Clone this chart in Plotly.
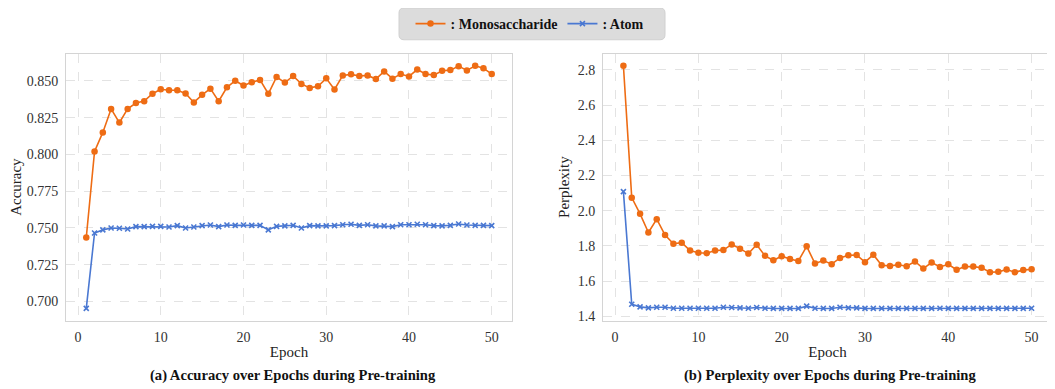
import plotly.graph_objects as go
from plotly.subplots import make_subplots

epochs = list(range(1, 51))

acc_mono = [0.7435, 0.802, 0.815, 0.831, 0.8217, 0.831, 0.835, 0.8363, 0.8413, 0.8444,
            0.8437, 0.8437, 0.8415, 0.8354, 0.8406, 0.8448, 0.8363, 0.8457, 0.8502, 0.8469,
            0.8491, 0.8507, 0.8413, 0.8527, 0.8489, 0.8534, 0.848, 0.8453, 0.8464, 0.8518,
            0.8442, 0.8538, 0.8545, 0.8534, 0.8538, 0.8513, 0.8565, 0.8516, 0.8547, 0.8531,
            0.8578, 0.8547, 0.854, 0.857, 0.8574, 0.8601, 0.8572, 0.8603, 0.8587, 0.8547]

acc_atom = [0.6953, 0.7466, 0.7487, 0.750, 0.7498, 0.7493, 0.7509, 0.7509, 0.7511, 0.7511,
            0.7507, 0.7516, 0.750, 0.7507, 0.7516, 0.752, 0.7509, 0.752, 0.7518, 0.752,
            0.7518, 0.7518, 0.7487, 0.7511, 0.7514, 0.7518, 0.750, 0.7516, 0.7514, 0.7514,
            0.7516, 0.7522, 0.7525, 0.7518, 0.7522, 0.7514, 0.7514, 0.7509, 0.7522, 0.7522,
            0.7525, 0.7522, 0.7516, 0.7514, 0.7518, 0.7527, 0.752, 0.7518, 0.7518, 0.7516]

ppl_mono = [2.824, 2.074, 1.982, 1.876, 1.9515, 1.861, 1.812, 1.818, 1.773, 1.761,
            1.758, 1.773, 1.776, 1.808, 1.784, 1.756, 1.806, 1.743, 1.718, 1.741,
            1.725, 1.714, 1.797, 1.699, 1.716, 1.696, 1.731, 1.746, 1.748, 1.707,
            1.750, 1.690, 1.686, 1.692, 1.684, 1.711, 1.671, 1.705, 1.680, 1.695,
            1.664, 1.682, 1.682, 1.675, 1.650, 1.652, 1.665, 1.650, 1.662, 1.667]

ppl_atom = [2.108, 1.468, 1.453, 1.447, 1.451, 1.451, 1.445, 1.445, 1.445, 1.445,
            1.445, 1.445, 1.451, 1.449, 1.447, 1.445, 1.449, 1.445, 1.444, 1.444,
            1.444, 1.444, 1.457, 1.445, 1.444, 1.444, 1.451, 1.447, 1.447, 1.444,
            1.444, 1.444, 1.444, 1.444, 1.444, 1.444, 1.444, 1.444, 1.445, 1.444,
            1.444, 1.444, 1.444, 1.444, 1.444, 1.444, 1.444, 1.444, 1.444, 1.445]

x_ticks = [0, 10, 20, 30, 40, 50]
acc_ticks = [0.700, 0.725, 0.750, 0.775, 0.800, 0.825, 0.850]
ppl_ticks = [1.4, 1.6, 1.8, 2.0, 2.2, 2.4, 2.6, 2.8]

ORANGE = "#EE6C14"
BLUE = "#4A78D2"
FONT = "Liberation Serif, Times New Roman, serif"

W, H = 1055, 389
OFF = 8  # page body margin offset


def px(x):
    return (x - OFF) / W


def py(y):
    return 1 - (y - OFF) / H


fig = make_subplots(rows=1, cols=2)

mono_style = dict(mode="lines+markers", line=dict(color=ORANGE, width=1.6),
                  marker=dict(symbol="circle", size=6.5, color=ORANGE))
atom_style = dict(mode="lines+markers", line=dict(color=BLUE, width=1.6),
                  marker=dict(symbol="x-thin", size=5, color=BLUE, line=dict(width=1.6, color=BLUE)))

fig.add_trace(go.Scatter(x=epochs, y=acc_mono, name="<b>: Monosaccharide</b>", legendgroup="m", **mono_style), 1, 1)
fig.add_trace(go.Scatter(x=epochs, y=acc_atom, name="<b>: Atom</b>", legendgroup="a", **atom_style), 1, 1)
fig.add_trace(go.Scatter(x=epochs, y=ppl_mono, name="<b>: Monosaccharide</b>", legendgroup="m", showlegend=False, **mono_style), 1, 2)
fig.add_trace(go.Scatter(x=epochs, y=ppl_atom, name="<b>: Atom</b>", legendgroup="a", showlegend=False, **atom_style), 1, 2)

ybot = py(323)
ytop = py(54)

axis_common = dict(showgrid=True, gridcolor="#e3e3e3", griddash="dash", gridwidth=0.8,
                   showline=True, linecolor="#d4d4d4", linewidth=1, mirror=True,
                   zeroline=False, ticks="", ticklabelstandoff=4,
                   tickfont=dict(family=FONT, size=14, color="#333333"),
                   title_font=dict(family=FONT, size=15, color="#222222"))

fig.update_xaxes(**axis_common)
fig.update_yaxes(**axis_common)

fig.update_xaxes(range=[-1.45, 52.45], tickvals=x_ticks, title_text="Epoch", title_standoff=2)
fig.update_layout(
    xaxis=dict(domain=[px(66), px(512)]),
    xaxis2=dict(domain=[px(603), px(1052)]),
    yaxis=dict(domain=[ybot, ytop], range=[0.687, 0.8686], tickvals=acc_ticks,
               tickformat=".3f", title=dict(text="Accuracy", standoff=4)),
    yaxis2=dict(domain=[ybot, ytop], range=[1.375, 2.893], tickvals=ppl_ticks,
                tickformat=".1f", title=dict(text="Perplexity", standoff=4)),
)

# rounded legend box
x0, x1 = px(399), px(665)
y0, y1 = py(40), py(8)
rx, ry = 5 / W, 5 / H
path = (f"M {x0+rx},{y0} L {x1-rx},{y0} Q {x1},{y0} {x1},{y0+ry} L {x1},{y1-ry} "
        f"Q {x1},{y1} {x1-rx},{y1} L {x0+rx},{y1} Q {x0},{y1} {x0},{y1-ry} "
        f"L {x0},{y0+ry} Q {x0},{y0} {x0+rx},{y0} Z")
fig.add_shape(type="path", path=path, xref="paper", yref="paper",
              fillcolor="#dcdcdc", line=dict(color="#d0d0d0", width=1), layer="below")

cap_font = dict(family=FONT, size=14.6, color="#111111")
fig.update_layout(
    width=W, height=H,
    margin=dict(l=0, r=0, t=0, b=0),
    paper_bgcolor="white", plot_bgcolor="white",
    font=dict(family=FONT),
    legend=dict(orientation="h", x=px(530), xanchor="center", y=py(24), yanchor="middle",
                bgcolor="rgba(0,0,0,0)", font=dict(family=FONT, size=14, color="#111111"),
                itemwidth=30, tracegroupgap=0),
    annotations=[
        dict(text="<b>(a) Accuracy over Epochs during Pre-training</b>", x=px(293), y=py(378),
             xref="paper", yref="paper", showarrow=False, xanchor="center", yanchor="middle",
             font=cap_font),
        dict(text="<b>(b) Perplexity over Epochs during Pre-training</b>", x=px(830), y=py(378),
             xref="paper", yref="paper", showarrow=False, xanchor="center", yanchor="middle",
             font=cap_font),
    ],
)

fig.write_html("out.html")
